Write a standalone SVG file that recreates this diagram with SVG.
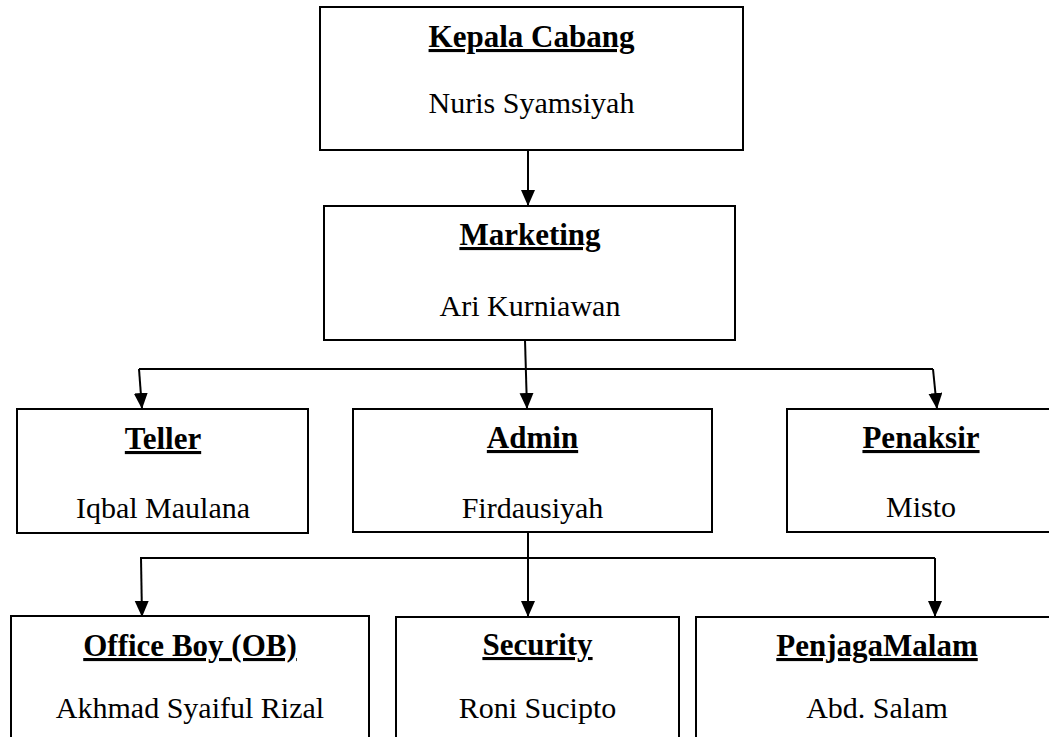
<svg xmlns="http://www.w3.org/2000/svg" width="1049" height="737" viewBox="0 0 1049 737">
<style>
.box{fill:#fff;stroke:#000;stroke-width:2}
.t{font-family:"Liberation Serif","Times New Roman",serif;font-weight:bold;font-size:31px;text-anchor:middle;text-decoration:underline;fill:#000}
.n{font-family:"Liberation Serif","Times New Roman",serif;font-size:30px;text-anchor:middle;fill:#000}
.c{fill:none;stroke:#000;stroke-width:2}
</style>
<defs>
<marker id="ah" markerUnits="userSpaceOnUse" markerWidth="18" markerHeight="16" refX="16" refY="7" orient="auto">
<path d="M0,0 L16,7 L0,14 z" fill="#000"/>
</marker>
</defs>
<rect width="1049" height="737" fill="#fff"/>
<g id="connectors">
<line class="c" x1="528" y1="150" x2="528" y2="206" marker-end="url(#ah)"/>
<line class="c" x1="525" y1="340" x2="527" y2="409" marker-end="url(#ah)"/>
<line class="c" x1="139" y1="369" x2="933" y2="369"/>
<line class="c" x1="139" y1="369" x2="142" y2="409" marker-end="url(#ah)"/>
<line class="c" x1="933" y1="369" x2="937" y2="409" marker-end="url(#ah)"/>
<line class="c" x1="528" y1="532" x2="528" y2="617" marker-end="url(#ah)"/>
<line class="c" x1="140" y1="558" x2="935" y2="558"/>
<line class="c" x1="141" y1="558" x2="142" y2="617" marker-end="url(#ah)"/>
<line class="c" x1="935" y1="558" x2="935" y2="617" marker-end="url(#ah)"/>
</g>
<g id="kepala-cabang">
<rect class="box" x="320" y="7" width="423" height="143"/>
<text class="t" x="531.5" y="47">Kepala Cabang</text>
<text class="n" x="531.5" y="113">Nuris Syamsiyah</text>
</g>
<g id="marketing">
<rect class="box" x="324" y="206" width="411" height="134"/>
<text class="t" x="530" y="245">Marketing</text>
<text class="n" x="530" y="316">Ari Kurniawan</text>
</g>
<g id="teller">
<rect class="box" x="17" y="409" width="291" height="124"/>
<text class="t" x="163" y="449">Teller</text>
<text class="n" x="163" y="518">Iqbal Maulana</text>
</g>
<g id="admin">
<rect class="box" x="353" y="409" width="359" height="123"/>
<text class="t" x="532.5" y="448">Admin</text>
<text class="n" x="532.5" y="518">Firdausiyah</text>
</g>
<g id="penaksir">
<rect class="box" x="787" y="409" width="268" height="123"/>
<text class="t" x="921" y="448">Penaksir</text>
<text class="n" x="921" y="517">Misto</text>
</g>
<g id="office-boy">
<rect class="box" x="11" y="616" width="358" height="130"/>
<text class="t" x="190" y="656">Office Boy (OB)</text>
<text class="n" x="190" y="718">Akhmad Syaiful Rizal</text>
</g>
<g id="security">
<rect class="box" x="396" y="617" width="283" height="130"/>
<text class="t" x="537.5" y="655">Security</text>
<text class="n" x="537.5" y="718">Roni Sucipto</text>
</g>
<g id="penjaga-malam">
<rect class="box" x="696" y="617" width="362" height="130"/>
<text class="t" x="877" y="656">PenjagaMalam</text>
<text class="n" x="877" y="718">Abd. Salam</text>
</g>
</svg>
